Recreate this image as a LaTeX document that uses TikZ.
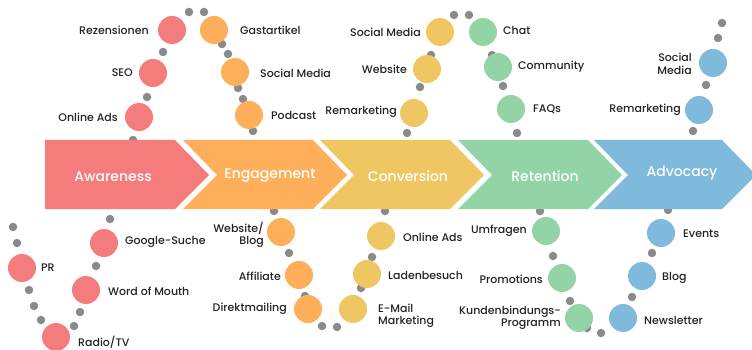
\documentclass[tikz,border=0pt]{standalone}
\usepackage{fontspec}
\setmainfont{Poppins}[UprightFont={* Medium}]
\definecolor{cA}{HTML}{F47C7C}
\definecolor{cE}{HTML}{FFAF5A}
\definecolor{cC}{HTML}{EEC763}
\definecolor{cR}{HTML}{93D4A7}
\definecolor{cV}{HTML}{7FB9DC}
\definecolor{dotc}{HTML}{8A8A8A}
\definecolor{txt}{HTML}{222222}
\begin{document}
\begin{tikzpicture}[x=1pt,y=-1pt,
  bub/.style={circle,fill=#1,minimum size=28pt,inner sep=0pt},
  gd/.style={circle,fill=dotc,minimum size=8.5pt,inner sep=0pt},
  lab/.style={font=\fontsize{11}{12.5}\selectfont,text=txt,inner sep=0pt},
  labl/.style={lab,anchor=east,align=right},
  labr/.style={lab,anchor=west,align=left},
  chevlab/.style={font=\fontsize{14}{16}\selectfont,text=white,inner sep=0pt}]
\useasboundingbox (0,0) rectangle (752,350);
% gray dots (behind everything)
\foreach \p [count=\i] in {(189,12),(204,12),(163,52),(147,97),(133,140),
  (222,44),(228,54),(238,88),(243,99),(253,131),
  (454,15),(469,15),(431,55),(420,87),(407,133),
  (492,55),(503,86),(517,133),
  (722,23),(718,38),(706,85),(693,131),
  (110,219),(13,227),(17,243),(96,266),(29,290),(34,306),(80,312),(41,320),(74,326),
  (274,211),(289,253),(305,296),(322,326),(337,327),
  (385,211),(372,257),(361,288),
  (540,211),(553,256),(570,301),(587,328),(601,333),
  (668,210),(652,253),(632,297)}
  \node[gd] (g\i) at \p {};
% chevrons
\fill[cA] (45,140) -- (175,140) -- (209,175) -- (175,209) -- (45,209) -- cycle;
\fill[cE] (183,140) -- (313,140) -- (347,175) -- (313,209) -- (183,209) -- (217,175) -- cycle;
\fill[cC] (320,140) -- (450,140) -- (484,175) -- (450,209) -- (320,209) -- (354,175) -- cycle;
\fill[cR] (458,140) -- (588,140) -- (622,175) -- (588,209) -- (458,209) -- (492,175) -- cycle;
\fill[cV] (594,140) -- (722,140) -- (756,175) -- (722,209) -- (594,209) -- (628,175) -- cycle;
\node[chevlab] (aw) at (113,177) {Awareness};
\node[chevlab] (en) at (270,176) {Engagement};
\node[chevlab] (co) at (408,176) {Conversion};
\node[chevlab] (re) at (545,176) {Retention};
\node[chevlab] (ad) at (682,173) {Advocacy};
% Awareness
\node[bub=cA] (A1) at (172,30) {};  \node[labl] at (149,30) {Rezensionen};
\node[bub=cA] (A2) at (153,73) {};  \node[labl] at (133,73) {SEO};
\node[bub=cA] (A3) at (139,117) {}; \node[labl] at (118,117) {Online Ads};
\node[bub=cA] (A4) at (104,243) {}; \node[labr] at (125,242) {Google-Suche};
\node[bub=cA] (A5) at (22,268) {};  \node[labr] at (41,268) {PR};
\node[bub=cA] (A6) at (86,290) {};  \node[labr] at (108,291) {Word of Mouth};
\node[bub=cA] (A7) at (56,337) {};  \node[labr] at (78,342) {Radio/TV};
% Engagement
\node[bub=cE] (E1) at (214,30) {};  \node[labr] at (240,30) {Gastartikel};
\node[bub=cE] (E2) at (235,72) {};  \node[labr] at (260,73) {Social Media};
\node[bub=cE] (E3) at (249,115) {}; \node[labr] at (271,115) {Podcast};
\node[bub=cE] (E4) at (281,232) {}; \node[labl] at (264,235) {Website/\\Blog};
\node[bub=cE] (E5) at (299,275) {}; \node[labl] at (281,276) {Affiliate};
\node[bub=cE] (E6) at (308,309) {}; \node[labl] at (287,309) {Direktmailing};
% Conversion
\node[bub=cC] (C1) at (440,32) {};  \node[labl] at (421,32) {Social Media};
\node[bub=cC] (C2) at (427,69) {};  \node[labl] at (407,69) {Website};
\node[bub=cC] (C3) at (414,113) {}; \node[labl] at (397,112) {Remarketing};
\node[bub=cC] (C4) at (381,236) {}; \node[labr] at (403,237) {Online Ads};
\node[bub=cC] (C5) at (367,274) {}; \node[labr] at (388,275) {Ladenbesuch};
\node[bub=cC] (C6) at (353,309) {}; \node[labr] at (378,316) {E-Mail\\Marketing};
% Retention
\node[bub=cR] (R1) at (483,32) {};  \node[labr] at (503,30) {Chat};
\node[bub=cR] (R2) at (498,67) {};  \node[labr] at (518,67) {Community};
\node[bub=cR] (R3) at (511,109) {}; \node[labr] at (533,109) {FAQs};
\node[bub=cR] (R4) at (546,231) {}; \node[labl] at (527,231) {Umfragen};
\node[bub=cR] (R5) at (562,278) {}; \node[labl] at (543,279) {Promotions};
\node[bub=cR] (R6) at (579,318) {}; \node[labl] at (561,318) {Kundenbindungs-\\Programm};
% Advocacy
\node[bub=cV] (V1) at (713,63) {};  \node[labl] at (692,64) {Social\\Media};
\node[bub=cV] (V2) at (699,110) {}; \node[labl] at (681,110) {Remarketing};
\node[bub=cV] (V4) at (661,233) {}; \node[labr] at (683,234) {Events};
\node[bub=cV] (V5) at (642,276) {}; \node[labr] at (662,278) {Blog};
\node[bub=cV] (V6) at (623,318) {}; \node[labr] at (644,320) {Newsletter};
\end{tikzpicture}
\end{document}
